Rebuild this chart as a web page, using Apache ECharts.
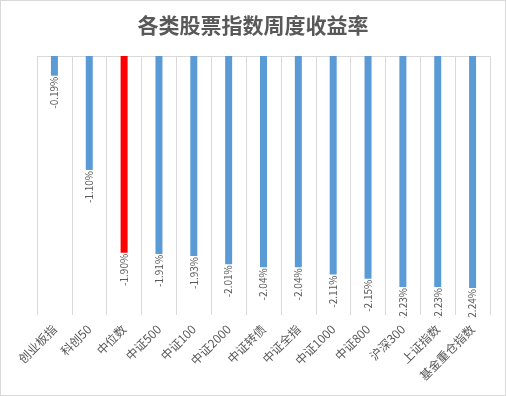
<!DOCTYPE html>
<html>
<head>
<meta charset="utf-8">
<script src="https://cdn.jsdelivr.net/npm/echarts@6/dist/echarts.min.js"></script>
<style>
html,body{margin:0;padding:0;background:#fff;}
#main{width:506px;height:396px;box-sizing:border-box;border:1px solid #D9D9D9;}
</style>
</head>
<body>
<div id="main"></div>
<script>
const categories = ['创业板指','科创50','中位数','中证500','中证100','中证2000','中证转债','中证全指','中证1000','中证800','沪深300','上证指数','基金重仓指数'];
const returns = [-0.19,-1.10,-1.90,-1.91,-1.93,-2.01,-2.04,-2.04,-2.11,-2.15,-2.23,-2.23,-2.24];
const highlight = '中位数';

const chart = echarts.init(document.getElementById('main'), null, {renderer:'canvas'});
const font = '"Noto Sans CJK SC", sans-serif';
chart.setOption({
  animation:false,
  title:{
    text:'各类股票指数周度收益率',
    left:'center', top:9,
    textStyle:{fontFamily:font, fontSize:21, fontWeight:'bold', color:'#595959'}
  },
  grid:{left:36, right:15, top:55, bottom:80},
  xAxis:[{
    type:'category', data:categories, position:'bottom', z:10,
    axisLine:{show:false, onZero:false}, axisTick:{show:false},
    splitLine:{show:true, lineStyle:{color:'#D9D9D9', width:1}},
    axisLabel:{rotate:45, interval:0, margin:12, fontFamily:font, fontSize:12, color:'#595959'}
  },{
    type:'category', data:categories, position:'top',
    axisLine:{show:true, onZero:false, lineStyle:{color:'#D9D9D9'}}, axisTick:{show:false}, axisLabel:{show:false}
  }],
  yAxis:{type:'value', min:-2.5, max:0, show:false, splitLine:{show:false}},
  graphic:[{type:'rect', z:5, shape:{x:36, y:317, width:460, height:30}, style:{fill:'#fff'}}],
  series:[{
    type:'bar', barWidth:7,
    data:returns.map((v,i)=>({value:v, itemStyle:{color: categories[i]===highlight ? '#FF0000' : '#5B9BD5'}})),
    label:{
      show:true, position:'bottom', distance:-3, rotate:90, align:'right', verticalAlign:'middle',
      offset:[-4,0],
      fontFamily:font, fontSize:10, color:'#595959',
      formatter:p=>p.value.toFixed(2)+'%'
    }
  }]
});
</script>
</body>
</html>
